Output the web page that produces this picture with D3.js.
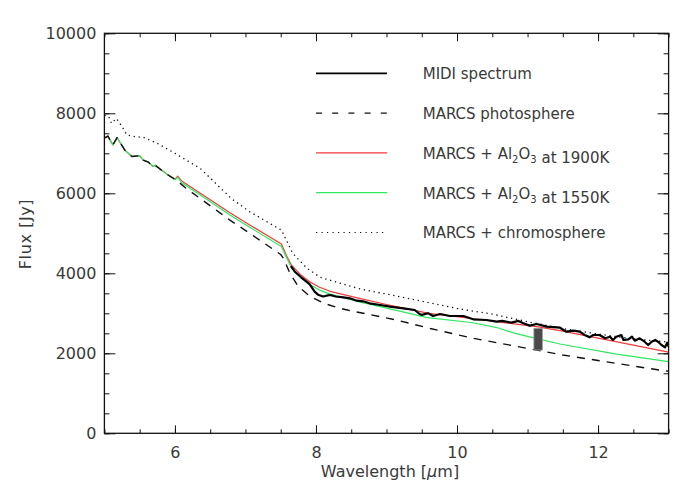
<!DOCTYPE html>
<html>
<head>
<meta charset="utf-8">
<script src="https://cdn.jsdelivr.net/npm/d3@7"></script>
<style>
body { margin:0; background:#fff; }
text { font-family:"DejaVu Sans", sans-serif; fill:#3a3a3a; }
</style>
</head>
<body>
<svg id="chart"></svg>
<script>
// MIDI spectrum (black, thick)
var midiWave = [7.645,7.70,7.79,7.91,7.98,8.03,8.10,8.15,8.20,8.28,8.39,8.48,8.58,8.67,8.76,8.91,9.05,9.24,9.40,9.47,9.50,9.59,9.66,9.76,9.90,10.09,10.23,10.42,10.56,10.64,10.77,10.87,10.94,11.03,11.13,11.27,11.46,11.55,11.65,11.74,11.81,11.88,11.93,12.02,12.10,12.17,12.21,12.26,12.33,12.36,12.43,12.48,12.52,12.59,12.66,12.71,12.76,12.81,12.85,12.90,12.95,12.98,13.00];
var midiFlux = [4180,4040,3900,3730,3540,3465,3420,3440,3457,3420,3400,3375,3315,3300,3250,3207,3165,3125,3083,2983,2960,3000,2933,2983,2933,2933,2850,2833,2792,2810,2767,2810,2750,2692,2733,2667,2640,2540,2565,2540,2457,2400,2457,2457,2375,2415,2333,2415,2457,2333,2350,2415,2315,2375,2290,2208,2290,2333,2290,2208,2150,2265,2167];

// MARCS photosphere (dashed)
var photWave = [5.00,5.05,5.12,5.18,5.29,5.39,5.50,5.55,5.62,5.69,5.72,5.88,6.02,6.14,6.36,6.78,7.06,7.50,7.54,7.63,7.75,7.91,8.11,8.29,8.46,9.14,9.62,10.23,11.13,11.50,12.00,12.80,13.00];
var photFlux = [7380,7430,7210,7390,7080,6920,6940,6830,6780,6670,6700,6480,6330,6150,5870,5330,5000,4470,4375,4000,3667,3433,3250,3150,3075,2833,2620,2375,2080,1957,1820,1600,1550];

// MARCS + Al2O3 at 1900K (red)
var redWave = [5.00,5.05,5.12,5.18,5.29,5.39,5.50,5.55,5.62,5.69,5.72,5.88,6.00,6.04,6.10,6.36,6.78,7.06,7.51,7.58,7.65,7.79,7.91,8.05,8.20,8.60,9.00,9.60,10.20,11.13,11.46,12.00,13.00];
var redFlux = [7380,7430,7210,7390,7080,6920,6940,6830,6790,6670,6700,6490,6350,6430,6300,6000,5515,5210,4730,4450,4210,3950,3790,3650,3550,3380,3220,3000,2870,2665,2565,2380,2030];

// MARCS + Al2O3 at 1550K (green)
var greenWave = [5.00,5.05,5.12,5.18,5.29,5.39,5.50,5.55,5.62,5.69,5.72,5.88,6.00,6.04,6.10,6.36,6.78,7.06,7.51,7.58,7.65,7.79,7.91,8.05,8.20,8.60,8.91,9.58,10.20,10.55,10.80,11.10,11.46,12.26,13.00];
var greenFlux = [7380,7430,7210,7390,7080,6920,6940,6830,6790,6670,6700,6490,6340,6400,6260,5960,5460,5150,4670,4400,4150,3880,3720,3580,3480,3290,3165,2890,2770,2650,2510,2380,2232,1980,1790];

// MARCS + chromosphere (dotted)
var chromWave = [5.00,5.06,5.10,5.17,5.25,5.32,5.43,5.55,5.75,6.00,6.36,6.80,7.06,7.51,7.67,7.87,8.06,8.60,9.00,9.50,10.00,10.50,11.00,11.50,12.00,12.50,13.00];
var chromFlux = [7950,7920,7750,7870,7665,7460,7415,7400,7250,7000,6620,5870,5540,5080,4500,4130,3900,3620,3480,3300,3120,2980,2790,2620,2480,2360,2280];

// error bar
var errWave = [11.09,11.21];
var errFlux = [2080,2625];

var legendLabels = ["MIDI spectrum","MARCS photosphere","MARCS + Al2O3 at 1900K","MARCS + Al2O3 at 1550K","MARCS + chromosphere"];
var xTicks = [6,8,10,12];
var yTicks = [0,2000,4000,6000,8000,10000];

var screen = {width:700, height:500};
var plot = {left:104.4, right:668.6, top:33.3, bottom:433.3};

var svg = d3.select("#chart")
    .attr("width", screen.width)
    .attr("height", screen.height);

var xScale = d3.scaleLinear().domain([5,13]).range([plot.left, plot.right]);
var yScale = d3.scaleLinear().domain([0,10000]).range([plot.bottom, plot.top]);

svg.append("clipPath").attr("id","clip")
    .append("rect")
    .attr("x", plot.left).attr("y", plot.top)
    .attr("width", plot.right-plot.left).attr("height", plot.bottom-plot.top);

var toPoints = function(wave, flux)
{
    return wave.map(function(w,i){ return [w, flux[i]]; });
}

var line = d3.line()
    .x(function(d){ return xScale(d[0]); })
    .y(function(d){ return yScale(d[1]); });

var drawSeries = function(wave, flux, color, width, dash)
{
    svg.append("path")
        .attr("clip-path","url(#clip)")
        .attr("d", line(toPoints(wave, flux)))
        .attr("fill","none")
        .attr("stroke", color)
        .attr("stroke-width", width)
        .attr("stroke-linejoin","round")
        .attr("stroke-dasharray", dash);
}

var styles = [
    {color:"#000", width:2.2, dash:null},
    {color:"#111", width:1.4, dash:"8,7"},
    {color:"#f23a3a", width:1.2, dash:null},
    {color:"#2ee860", width:1.2, dash:null},
    {color:"#111", width:1.3, dash:"1.3,3.7"}
];

drawSeries(redWave, redFlux, styles[2].color, styles[2].width, styles[2].dash);
drawSeries(greenWave, greenFlux, styles[3].color, styles[3].width, styles[3].dash);
drawSeries(photWave, photFlux, styles[1].color, styles[1].width, styles[1].dash);
drawSeries(chromWave, chromFlux, styles[4].color, styles[4].width, styles[4].dash);
drawSeries(midiWave, midiFlux, styles[0].color, styles[0].width, styles[0].dash);

// error bar
svg.append("rect")
    .attr("x", xScale(errWave[0]))
    .attr("y", yScale(errFlux[1]))
    .attr("width", xScale(errWave[1]) - xScale(errWave[0]))
    .attr("height", yScale(errFlux[0]) - yScale(errFlux[1]))
    .attr("fill","#4a4a4a")
    .attr("stroke","#9a9a9a")
    .attr("stroke-width",0.8);

// axes: major + minor ticks on all four sides
var minorX = d3.range(5, 13.01, 0.5);
var minorY = d3.range(0, 10001, 500);

var addAxis = function(axis, tx, ty)
{
    var g = svg.append("g")
        .attr("transform","translate("+tx+","+ty+")")
        .call(axis);
    g.select(".domain").remove();
    g.selectAll("line").attr("stroke","#111").attr("stroke-width",1);
    return g;
}

var bottomMajor = addAxis(d3.axisBottom(xScale).tickValues(xTicks).tickSize(-8).tickPadding(13).tickFormat(d3.format("d")), 0, plot.bottom);
bottomMajor.selectAll("text").attr("font-size","16px").style("font-family","DejaVu Sans").attr("fill","#3a3a3a");
addAxis(d3.axisBottom(xScale).tickValues(minorX).tickSize(-4).tickFormat(""), 0, plot.bottom);
addAxis(d3.axisTop(xScale).tickValues(xTicks).tickSize(-8).tickFormat(""), 0, plot.top);
addAxis(d3.axisTop(xScale).tickValues(minorX).tickSize(-4).tickFormat(""), 0, plot.top);

var leftMajor = addAxis(d3.axisLeft(yScale).tickValues(yTicks).tickSize(-11).tickPadding(8).tickFormat(d3.format("d")), plot.left, 0);
leftMajor.selectAll("text").attr("font-size","16px").style("font-family","DejaVu Sans").attr("fill","#3a3a3a");
addAxis(d3.axisLeft(yScale).tickValues(minorY).tickSize(-5).tickFormat(""), plot.left, 0);
addAxis(d3.axisRight(yScale).tickValues(yTicks).tickSize(-11).tickFormat(""), plot.right, 0);
addAxis(d3.axisRight(yScale).tickValues(minorY).tickSize(-5).tickFormat(""), plot.right, 0);

// frame
svg.append("rect")
    .attr("x", plot.left).attr("y", plot.top)
    .attr("width", plot.right-plot.left).attr("height", plot.bottom-plot.top)
    .attr("fill","none").attr("stroke","#111").attr("stroke-width",1.3);

// axis titles
var xt = svg.append("text")
    .attr("x", 390).attr("y", 477)
    .attr("text-anchor","middle")
    .attr("font-size","16px");
xt.append("tspan").text("Wavelength [");
xt.append("tspan").attr("font-style","italic").text("μ");
xt.append("tspan").text("m]");

svg.append("text")
    .attr("transform","translate(31,234) rotate(-90)")
    .attr("text-anchor","middle")
    .attr("font-size","16px")
    .attr("letter-spacing","0.6px")
    .text("Flux [Jy]");

// legend
var legend = svg.append("g");
legendLabels.forEach(function(label, i)
{
    var ly = 73.3 + i*39.8;
    legend.append("line")
        .attr("x1",316).attr("x2",387)
        .attr("y1",ly).attr("y2",ly)
        .attr("stroke", styles[i].color)
        .attr("stroke-width", i==0 ? 1.8 : 1.2)
        .attr("stroke-dasharray", i==1 ? "6,10.2" : (i==4 ? "1.2,4.3" : null));
    var t = legend.append("text")
        .attr("x",422.7).attr("y",ly+5.8)
        .attr("font-size","15px");
    var parts = label.split(/(Al2O3)/);
    parts.forEach(function(p)
    {
        if (p == "Al2O3")
        {
            t.append("tspan").text("Al");
            t.append("tspan").attr("dy",4).attr("font-size","10px").text("2");
            t.append("tspan").attr("dy",-4).text("O");
            t.append("tspan").attr("dy",4).attr("font-size","10px").text("3");
            t.append("tspan").attr("dy",-4).text("");
        }
        else
        {
            t.append("tspan").text(p);
        }
    });
});
</script>
</body>
</html>
